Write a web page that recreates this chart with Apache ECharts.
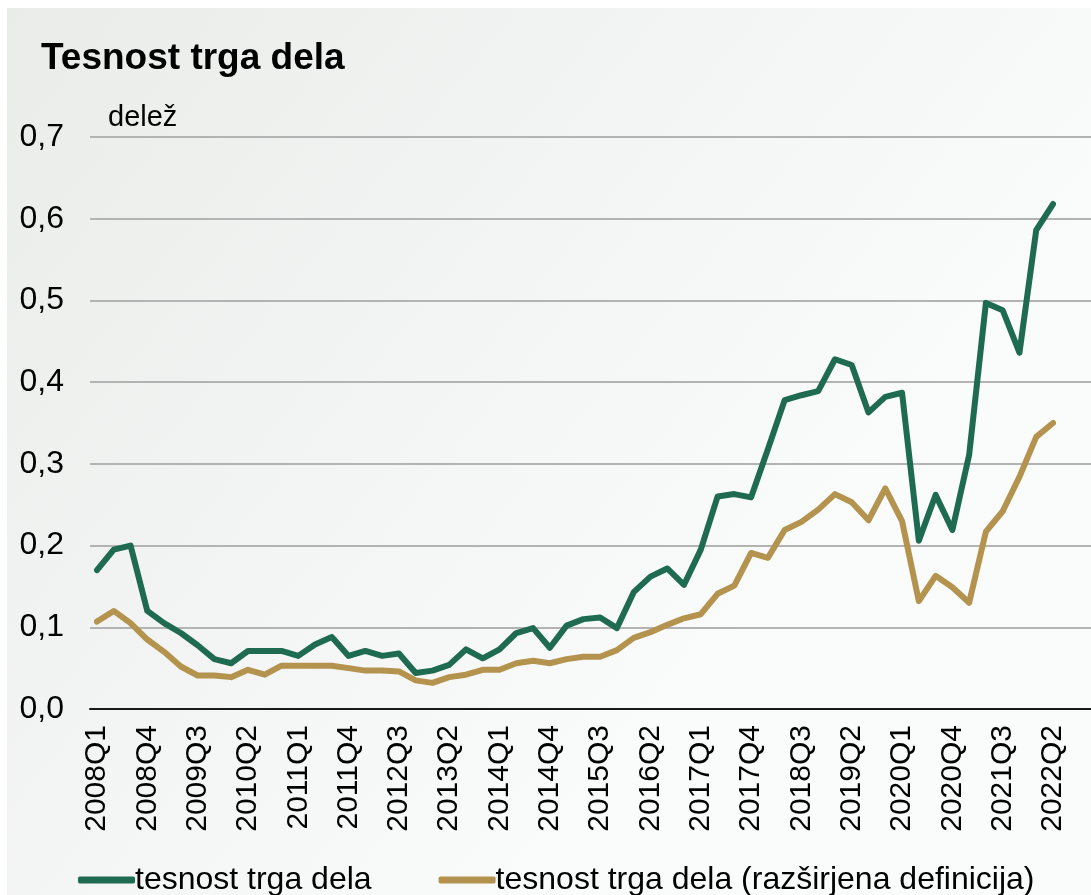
<!DOCTYPE html>
<html>
<head>
<meta charset="utf-8">
<title>Tesnost trga dela</title>
<script src="https://cdn.jsdelivr.net/npm/echarts@6/dist/echarts.min.js"></script>
<style>
    html, body { margin: 0; padding: 0; background: #fff; }
    #chart { position: absolute; left: 7px; top: 8px; width: 1084px; height: 887px; }
</style>
</head>
<body>
<div id="chart"></div>
<script>
// quarters 2008Q1 .. 2022Q2
const years = [2008, 2009, 2010, 2011, 2012, 2013, 2014, 2015, 2016, 2017, 2018, 2019, 2020, 2021, 2022];
const quarters = ["Q1", "Q2", "Q3", "Q4"];
const categories = [];
years.forEach(y => quarters.forEach(q => categories.push(y + q)));
categories.splice(categories.indexOf("2022Q3"));

const tightness = [
    0.170, 0.195, 0.200, 0.120, 0.105, 0.093, 0.078, 0.061, 0.056, 0.071,
    0.071, 0.071, 0.065, 0.079, 0.088, 0.065, 0.071, 0.065, 0.068, 0.044,
    0.047, 0.054, 0.073, 0.062, 0.073, 0.093, 0.099, 0.075, 0.102, 0.110,
    0.112, 0.099, 0.143, 0.162, 0.172, 0.152, 0.195, 0.260, 0.263, 0.259,
    0.318, 0.378, 0.384, 0.389, 0.428, 0.421, 0.363, 0.382, 0.387, 0.206,
    0.262, 0.219, 0.311, 0.497, 0.488, 0.436, 0.586, 0.618
];
const tightnessWide = [
    0.107, 0.120, 0.105, 0.085, 0.070, 0.052, 0.041, 0.041, 0.039, 0.048,
    0.042, 0.053, 0.053, 0.053, 0.053, 0.050, 0.047, 0.047, 0.046, 0.035,
    0.032, 0.039, 0.042, 0.048, 0.048, 0.056, 0.059, 0.056, 0.061, 0.064,
    0.064, 0.072, 0.087, 0.094, 0.103, 0.111, 0.116, 0.141, 0.151, 0.191,
    0.185, 0.219, 0.229, 0.244, 0.263, 0.253, 0.231, 0.270, 0.230, 0.132,
    0.163, 0.149, 0.130, 0.217, 0.242, 0.284, 0.333, 0.350
];

const yTicks = { min: 0, max: 0.7, interval: 0.1 };
const FONT = "'Liberation Sans', Arial, sans-serif";

const option = {
    backgroundColor: new echarts.graphic.LinearGradient(0, 0, 0.7, 0.7, [
        { offset: 0, color: "#eaecea" },
        { offset: 1, color: "#fafbfb" }
    ]),
    animation: false,
    textStyle: { fontFamily: FONT, color: "#000" },
    title: {
        text: "Tesnost trga dela",
        left: 29,
        top: 27,
        textStyle: { fontSize: 37, fontWeight: "bold", color: "#000", fontFamily: FONT }
    },
    legend: {
        left: 66,
        top: 851,
        itemGap: 67,
        itemWidth: 57,
        itemHeight: 7,
        icon: "roundRect",
        textStyle: { fontSize: 32, color: "#000", fontFamily: FONT, padding: [0, 0, 0, -5] },
        data: ["tesnost trga dela", "tesnost trga dela (razširjena definicija)"]
    },
    grid: [
        // wide grid: gridlines + y labels
        { left: 83, right: 0, top: 129, bottom: 186 },
        // data grid
        { left: 90, right: 38, top: 129, bottom: 186 }
    ],
    xAxis: [
        {
            gridIndex: 0, type: "value", min: 0, max: 1,
            axisLine: { show: true, lineStyle: { color: "#1a1a1a", width: 2 } },
            axisTick: { show: false }, axisLabel: { show: false }, splitLine: { show: false }
        },
        {
            gridIndex: 1, type: "category", data: categories, boundaryGap: false,
            axisLine: { show: false }, axisTick: { show: false },
            axisLabel: { interval: 2, rotate: 90, fontSize: 30, margin: 16, color: "#000", fontFamily: FONT }
        }
    ],
    yAxis: [
        {
            gridIndex: 0, type: "value", ...yTicks,
            name: "delež",
            nameLocation: "end",
            nameGap: 19,
            nameTextStyle: { fontSize: 29, color: "#000", align: "left", verticalAlign: "middle", padding: [0, 0, 0, 18], fontFamily: FONT },
            axisLine: { show: false }, axisTick: { show: false },
            axisLabel: {
                fontSize: 32, margin: 26, color: "#000", fontFamily: FONT,
                formatter: v => v.toFixed(1).replace(".", ",")
            },
            splitLine: { lineStyle: { color: "#b3b3b3", width: 2 } }
        },
        { gridIndex: 1, type: "value", ...yTicks, show: false }
    ],
    series: [
        {
            name: "tesnost trga dela",
            type: "line",
            xAxisIndex: 1, yAxisIndex: 1,
            data: tightness,
            symbol: "none",
            color: "#1f6b52",
            lineStyle: { width: 6, color: "#1f6b52", cap: "round", join: "round" }
        },
        {
            name: "tesnost trga dela (razširjena definicija)",
            type: "line",
            xAxisIndex: 1, yAxisIndex: 1,
            data: tightnessWide,
            symbol: "none",
            color: "#b3934e",
            lineStyle: { width: 6, color: "#b3934e", cap: "round", join: "round" }
        }
    ]
};

const chart = echarts.init(document.getElementById("chart"));
chart.setOption(option);
</script>
</body>
</html>
